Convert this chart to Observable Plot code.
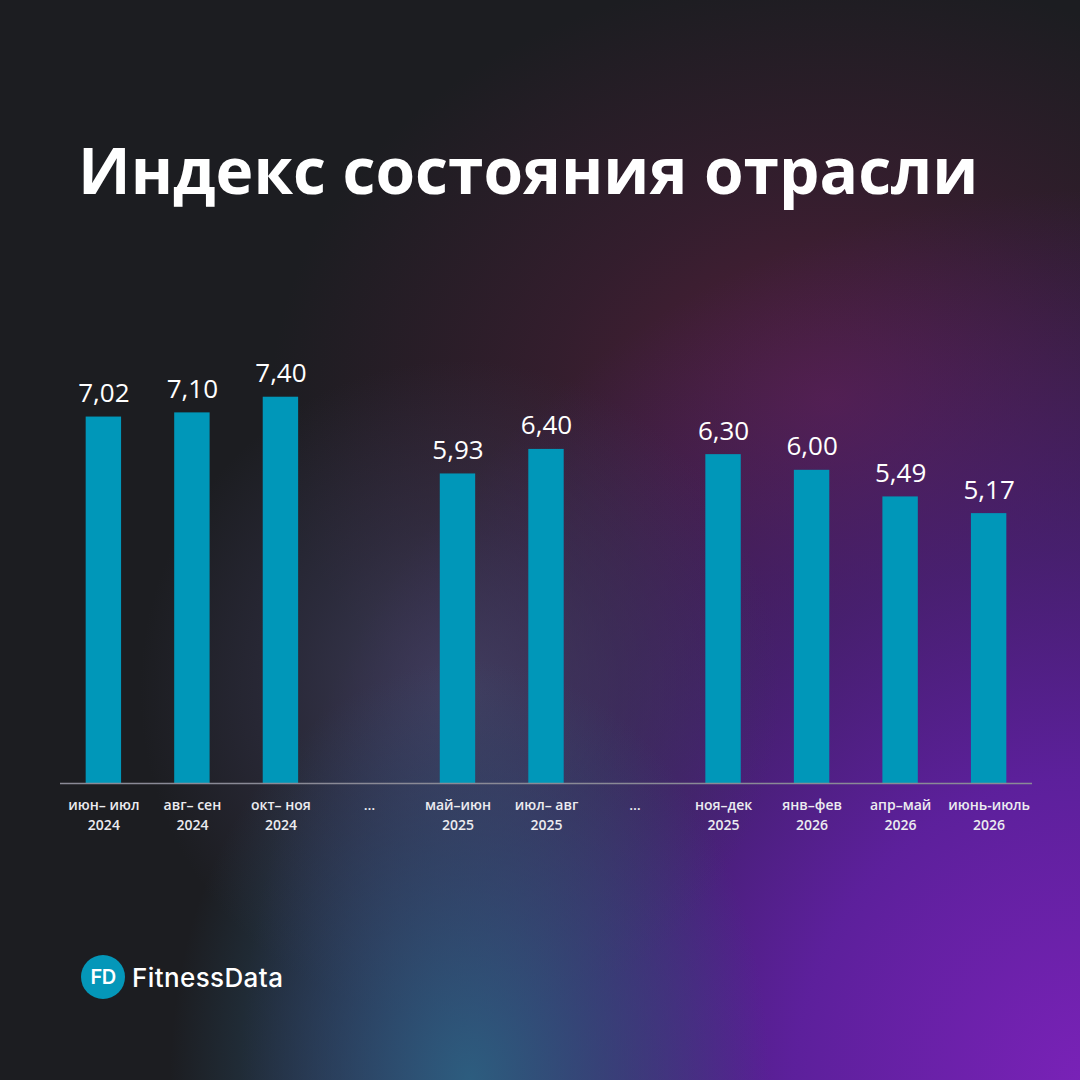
<!DOCTYPE html>
<html>
<head>
<meta charset="utf-8">
<script src="https://cdn.jsdelivr.net/npm/d3@7"></script>
<script src="https://cdn.jsdelivr.net/npm/@observablehq/plot@0.6"></script>
<style>
  html, body { margin: 0; padding: 0; }
  body { width: 1080px; height: 1080px; overflow: hidden; }
  #page {
    position: relative; width: 1080px; height: 1080px; overflow: hidden;
    background-color: #1c1d21;
    background-image:
      radial-gradient(ellipse 300px 420px at 470px 1080px, rgba(44,100,132,0.9) 0%, rgba(46,92,126,0.55) 45%, rgba(48,80,120,0) 100%),
      radial-gradient(ellipse 320px 330px at 460px 690px, rgba(68,66,100,0.85) 0%, rgba(62,60,92,0.45) 50%, rgba(55,55,80,0) 100%),
      radial-gradient(ellipse 850px 900px at 1090px 1090px, rgba(122,34,184,1) 0%, rgba(96,32,162,0.95) 35%, rgba(80,32,138,0.7) 60%, rgba(65,30,110,0) 100%),
      radial-gradient(ellipse 560px 430px at 830px 400px, rgba(92,32,64,0.85) 0%, rgba(80,30,60,0.45) 50%, rgba(60,30,50,0) 100%);
    font-family: "Open Sans", sans-serif;
  }
  #title {
    position: absolute; left: 78px; top: 125px; margin: 0;
    font-family: "Open Sans", sans-serif; font-weight: 700; font-size: 64px;
    color: #ffffff; line-height: 90px; white-space: nowrap;
  }
  #chart { position: absolute; left: 0; top: 300px; }
  #logo { position: absolute; left: 81px; top: 955px; display: flex; align-items: center; }
  #logo .circle {
    width: 44px; height: 44px; border-radius: 50%; background: #0497b9;
    color: #fff; font-family: "Inter", sans-serif; font-weight: 600; font-size: 20px;
    display: flex; align-items: center; justify-content: center; letter-spacing: -0.5px;
  }
  #logo .name {
    margin-left: 7px; color: #fff; font-family: "Inter", sans-serif; font-weight: 500;
    font-size: 26px; letter-spacing: 0.4px;
  }
</style>
</head>
<body>
<div id="page">
  <h1 id="title">Индекс состояния отрасли</h1>
  <div id="chart"></div>
  <div id="logo"><div class="circle">FD</div><div class="name">FitnessData</div></div>
</div>
<script>
const periods = ["июн– июл", "авг– сен", "окт– ноя", "…", "май–июн", "июл– авг", "…", "ноя–дек", "янв–фев", "апр–май", "июнь-июль"];
const years   = ["2024", "2024", "2024", "", "2025", "2025", "", "2025", "2026", "2026", "2026"];
const values  = [7.02, 7.10, 7.40, null, 5.93, 6.40, null, 6.30, 6.00, 5.49, 5.17];
const valueLabels = ["7,02", "7,10", "7,40", "", "5,93", "6,40", "", "6,30", "6,00", "5,49", "5,17"];

const data = periods.map((p, i) => ({ key: i, period: p, year: years[i], value: values[i], label: valueLabels[i] }));
const bars = data.filter(d => d.value != null);

const chart = Plot.plot({
  width: 1080,
  height: 560,
  marginLeft: 60,
  marginRight: 48,
  marginTop: 0,
  marginBottom: 77,
  style: { background: "transparent", fontFamily: "Open Sans, sans-serif", overflow: "visible" },
  x: { domain: data.map(d => d.key), paddingInner: 0.6, paddingOuter: 0.29, round: false, label: null },
  y: { domain: [0, 8], range: [483, 483 - 8 * 52.2], axis: null },
  marks: [
    Plot.barY(bars, { x: "key", y: "value", fill: "#0097b9" }),
    Plot.ruleY([0], { stroke: "#8a8a96", strokeWidth: 1.5 }),
    Plot.text(bars, { x: "key", y: "value", text: "label", dy: -15, lineAnchor: "bottom", fill: "#ffffff", fontSize: 26 }),
    Plot.axisX({
      tickSize: 0, tickPadding: 13, fontSize: 14, fontWeight: 600, fill: "#ececf0", lineHeight: 1.4,
      tickFormat: k => years[k] ? periods[k] + "\n" + years[k] : periods[k], label: null
    })
  ]
});
document.getElementById("chart").appendChild(chart);
</script>
</body>
</html>
